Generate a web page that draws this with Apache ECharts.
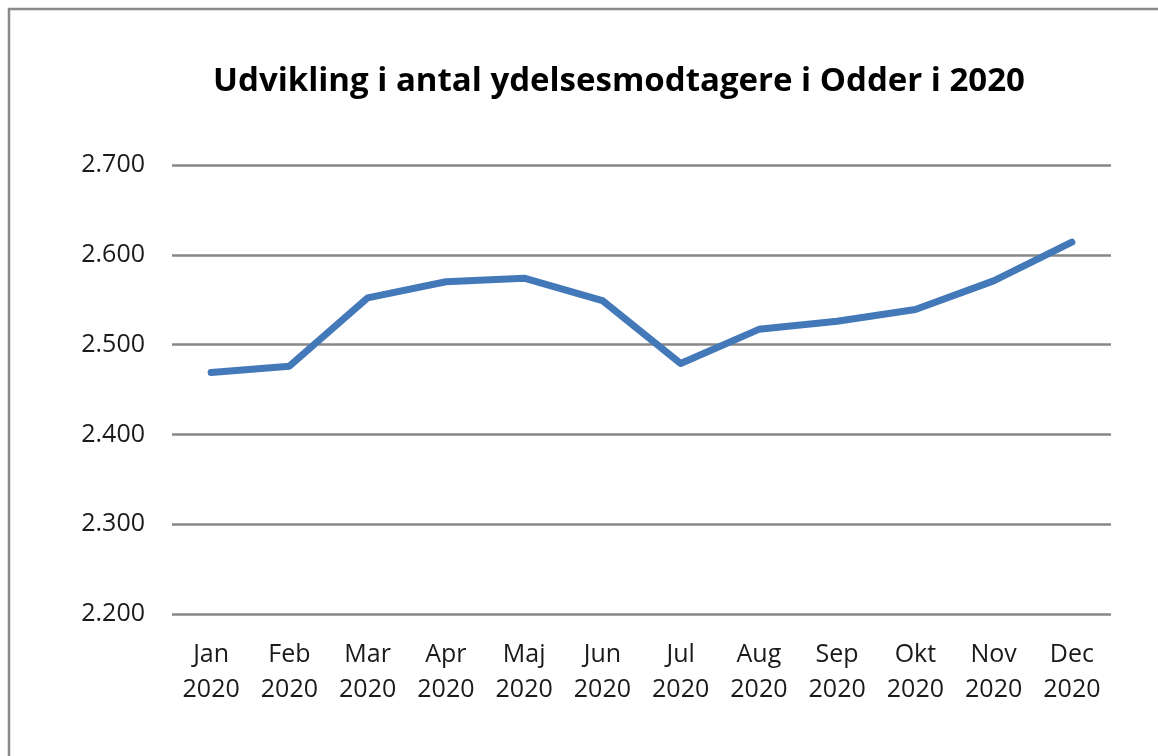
<!DOCTYPE html>
<html>
<head>
<meta charset="utf-8">
<script src="https://cdn.jsdelivr.net/npm/echarts@6/dist/echarts.min.js"></script>
<style>
  html, body { margin: 0; padding: 0; background: #fff; }
  #chart { width: 1158px; height: 756px; }
</style>
</head>
<body>
<div id="chart"></div>
<script>
// data
const months = ['Jan\n2020', 'Feb\n2020', 'Mar\n2020', 'Apr\n2020', 'Maj\n2020', 'Jun\n2020',
                'Jul\n2020', 'Aug\n2020', 'Sep\n2020', 'Okt\n2020', 'Nov\n2020', 'Dec\n2020'];
const recipients = [2469, 2476, 2552, 2570, 2574, 2549, 2479, 2517, 2526, 2539, 2571, 2614];

const chart = echarts.init(document.getElementById('chart'));

const option = {
  backgroundColor: '#fff',
  animation: false,
  title: {
    text: 'Udvikling i antal ydelsesmodtagere i Odder i 2020',
    left: 614,
    textAlign: 'center',
    top: 60,
    textStyle: {
      fontFamily: 'Open Sans',
      fontWeight: 'bold',
      fontSize: 33,
      color: '#000'
    }
  },
  graphic: [
    {
      type: 'rect',
      shape: { x: 9, y: 9, width: 1160, height: 760 },
      style: { fill: 'none', stroke: '#898989', lineWidth: 2.5 },
      silent: true
    }
  ],
  grid: {
    left: 172,
    right: 47,
    top: 165,
    bottom: 142,
    containLabel: false
  },
  xAxis: {
    type: 'category',
    data: months,
    boundaryGap: true,
    axisLine: { show: false },
    axisTick: { show: false },
    axisLabel: {
      fontFamily: 'Open Sans',
      fontSize: 25,
      color: '#1a1a1a',
      lineHeight: 35,
      margin: 23
    }
  },
  yAxis: {
    type: 'value',
    min: 2200,
    max: 2700,
    interval: 100,
    axisLine: { show: false },
    axisTick: { show: false },
    splitLine: { lineStyle: { color: '#878787', width: 2.5 } },
    axisLabel: {
      fontFamily: 'Open Sans',
      fontSize: 25,
      color: '#1a1a1a',
      margin: 27,
      formatter: v => (v / 1000).toFixed(3)
    }
  },
  series: [
    {
      name: 'Ydelsesmodtagere',
      type: 'line',
      data: recipients,
      symbol: 'none',
      lineStyle: { color: '#4479B9', width: 7, cap: 'round', join: 'round' },
      itemStyle: { color: '#4479B9' }
    }
  ]
};

chart.setOption(option);
</script>
</body>
</html>
